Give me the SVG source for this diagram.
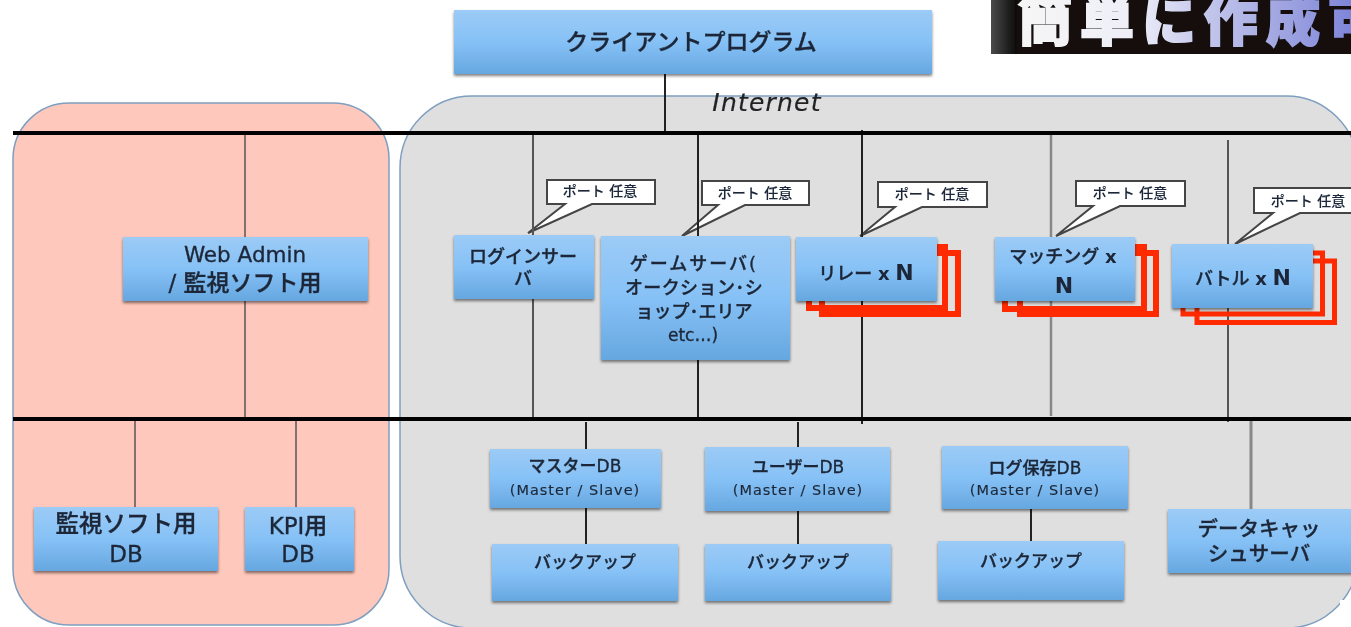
<svg xmlns="http://www.w3.org/2000/svg" width="1351" height="627" viewBox="0 0 1351 627">
<style>
.n{fill:url(#g);filter:url(#s)}
text{font-family:"DejaVu Sans","Noto Sans CJK JP",sans-serif;fill:#1c2838;text-anchor:middle;font-weight:500;stroke:#1c2838;stroke-width:.35}
.l{stroke-width:2;fill:none}
.k{stroke:#222}.d{stroke:#555}.b{stroke:#84706c}.h{stroke:#000;stroke-width:4}
.c{fill:#fff;stroke:#444;stroke-width:2}
.r{fill:none;stroke:#ff2a00;stroke-width:6}
.t18{font-size:18px}.t22{font-size:23px}.t16{font-size:17px}.t14{font-size:14.5px;letter-spacing:1px;stroke-width:.15}.t13{font-size:14px;stroke-width:.1}.t20{font-size:20.5px}
.bd{font-weight:700;stroke-width:0}
</style>
<defs>
<linearGradient id="g" x1="0" y1="0" x2="0" y2="1"><stop offset="0" stop-color="#9ccbf6"/><stop offset=".5" stop-color="#86c1f6"/><stop offset="1" stop-color="#66a7e0"/></linearGradient>
<linearGradient id="bt" gradientUnits="userSpaceOnUse" x1="1018" y1="0" x2="1351" y2="0"><stop offset="0" stop-color="#f6f6f6"/><stop offset=".35" stop-color="#eeeef8"/><stop offset=".55" stop-color="#c6c9ec"/><stop offset="1" stop-color="#7f86d8"/></linearGradient>
<linearGradient id="bs" x1="0" y1="0" x2="1" y2="0"><stop offset="0" stop-color="#4a4a4a"/><stop offset="1" stop-color="#0c0a0a"/></linearGradient>
<filter id="s" x="-5%" y="-5%" width="110%" height="115%"><feDropShadow dx="0" dy="2" stdDeviation="1.5" flood-color="#000" flood-opacity=".5"/></filter>
<filter id="bl" x="0" y="0" width="1351" height="627" filterUnits="userSpaceOnUse"><feGaussianBlur stdDeviation=".45"/></filter>
<clipPath id="bc"><rect x="991" y="0" width="360" height="54"/></clipPath>
</defs>
<rect width="1351" height="627" fill="#fff"/>
<g filter="url(#bl)">
<g id="zones">
<rect x="13" y="103" width="376" height="522" rx="56" fill="#ffc8bc" stroke="#7f9fc0" stroke-width="1.5"/>
<rect x="400" y="96" width="958" height="532" rx="72" fill="#dfdfdf" stroke="#7f9fc0" stroke-width="1.5"/>
<rect x="1340" y="600" width="11" height="27" fill="#fff"/>
</g>
<g id="banner" clip-path="url(#bc)">
<rect x="991" y="0" width="360" height="54" fill="#120f0f"/>
<rect x="991" y="0" width="26" height="54" fill="url(#bs)"/>
<text x="1018" y="41" style="font-family:'Noto Sans CJK JP',sans-serif;font-size:54px;font-weight:900;text-anchor:start;letter-spacing:8px;fill:url(#bt);stroke:url(#bt);stroke-width:2">簡単に作成可</text>
</g>
<g id="callouts">
<path class="c" d="M547 180H655V204H592L528 233L565 204H547Z"/>
<path class="c" d="M702 181H809V205H745L682 236L718 205H702Z"/>
<path class="c" d="M878 182H987V207H922L860 236L895 207H878Z"/>
<path class="c" d="M1076 181H1185V206H1120L1056 236L1093 206H1076Z"/>
<path class="c" d="M1254 188H1362V213H1300L1235 244L1273 213H1254Z"/>
<g class="t13">
<text class="t13" x="600" y="196">ポート 任意</text>
<text class="t13" x="755" y="198">ポート 任意</text>
<text class="t13" x="932" y="199">ポート 任意</text>
<text class="t13" x="1130" y="198">ポート 任意</text>
<text class="t13" x="1308" y="206">ポート 任意</text>
</g>
</g>
<g id="connectors">
<path class="l k" d="M665 74V133"/>
<path class="l b" d="M245 133V419M135 419V507M296 419V507"/>
<path class="l d" d="M533 133V419M1228 140V422"/>
<path class="l k" d="M698 133V419M862 130V424M586 422V449M586 508V544M798 422V447M798 511V544M1031 509V541"/>
<path class="l" d="M1051 135V416" style="stroke-width:2.5;stroke:#888"/>
<path class="l" d="M1251 419V509" style="stroke-width:3;stroke:#888"/>
<path class="h" d="M13 133H1351M13 419H1351"/>
</g>
<text x="767" y="111" style="font-size:25px;letter-spacing:1.2px;font-style:italic;font-weight:400;fill:#222;stroke-width:.2">Internet</text>
<g id="client"><rect class="n" x="454" y="10" width="478" height="64"/><text x="691" y="50" style="font-size:23px">クライアントプログラム</text></g>
<g id="webadmin"><rect class="n" x="123" y="237" width="245" height="64"/><text x="245" y="262" style="font-size:21.5px">Web Admin</text><text class="t22" x="245" y="291">/ 監視ソフト用</text></g>
<g id="login"><rect class="n" x="454" y="235" width="140" height="64"/><text class="t18" x="523" y="263">ログインサー</text><text class="t18" x="523" y="285">バ</text></g>
<g id="game"><rect class="n" x="601" y="236" width="189" height="124"/><text class="t18" x="694" y="270" style="letter-spacing:2px">ゲームサーバ(</text><text class="t18" x="694" y="294" style="letter-spacing:.4px">オークション･シ</text><text class="t18" x="694" y="318">ョップ･エリア</text><text class="t16" x="693" y="341">etc…)</text></g>
<g id="relay"><rect class="r" x="809" y="247" width="136" height="61"/><rect class="r" x="822" y="253" width="136" height="61"/><rect class="n" x="796" y="237" width="141" height="64"/><text class="t18" x="866" y="280">リレー <tspan class="bd">x</tspan> <tspan class="t22 bd" style="font-size:22px">N</tspan></text></g>
<g id="matching"><rect class="r" x="1005" y="247" width="139" height="62"/><rect class="r" x="1020" y="253" width="136" height="61"/><rect class="n" x="995" y="237" width="140" height="64"/><text class="t18" x="1063" y="263">マッチング <tspan class="bd">x</tspan></text><text class="t22 bd" style="font-size:22px" x="1064" y="293">N</text></g>
<g id="battle"><rect class="r" style="stroke-width:5" x="1183" y="253" width="139.500" height="61"/><rect class="r" style="stroke-width:5" x="1197" y="261" width="137.500" height="61.500"/><rect class="n" x="1172" y="244" width="141" height="64"/><text class="t18" x="1243" y="285">バトル <tspan class="bd">x</tspan> <tspan class="t22 bd" style="font-size:22px">N</tspan></text></g>
<g id="masterdb"><rect class="n" x="490" y="449" width="171" height="59"/><text class="t16" x="575" y="472">マスターDB</text><text class="t14" x="575" y="495">(Master / Slave)</text></g>
<g id="userdb"><rect class="n" x="705" y="447" width="185" height="64"/><text class="t16" x="798" y="473">ユーザーDB</text><text class="t14" x="798" y="495">(Master / Slave)</text></g>
<g id="logdb"><rect class="n" x="942" y="446" width="186" height="63"/><text class="t16" x="1035" y="474">ログ保存DB</text><text class="t14" x="1035" y="495">(Master / Slave)</text></g>
<g id="backup1"><rect class="n" x="492" y="544" width="186" height="57"/><text class="t16" x="585" y="568">バックアップ</text></g>
<g id="backup2"><rect class="n" x="705" y="544" width="186" height="57"/><text class="t16" x="798" y="568">バックアップ</text></g>
<g id="backup3"><rect class="n" x="938" y="541" width="186" height="59"/><text class="t16" x="1031" y="567">バックアップ</text></g>
<g id="cache"><rect class="n" x="1168" y="509" width="190" height="64"/><text class="t20" x="1259" y="536">データキャッ</text><text class="t20" x="1259" y="561">シュサーバ</text></g>
<g id="monitordb"><rect class="n" x="34" y="507" width="184" height="64"/><text x="126" y="532" style="font-size:23.5px">監視ソフト用</text><text class="t22" x="126" y="562">DB</text></g>
<g id="kpidb"><rect class="n" x="245" y="507" width="109" height="64"/><text x="298" y="534" style="font-size:23px">KPI用</text><text class="t22" x="298" y="562">DB</text></g>
</g>
</svg>
